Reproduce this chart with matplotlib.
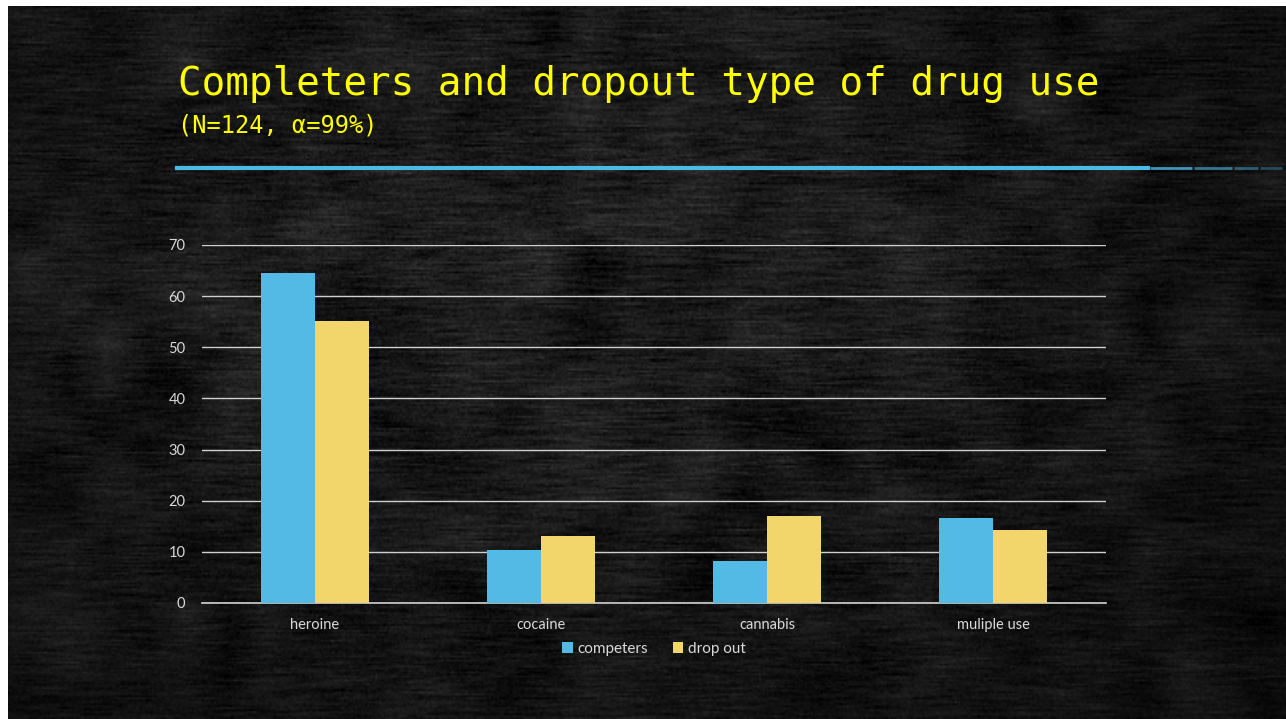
import numpy as np
import matplotlib
matplotlib.use("Agg")
import matplotlib.pyplot as plt
from matplotlib.lines import Line2D
from matplotlib.patches import Patch

categories = ["heroine", "cocaine", "cannabis", "muliple use"]
completers = [64.5, 10.4, 8.2, 16.6]
dropout = [55.1, 13.1, 17.0, 14.3]
series_names = ["competers", "drop out"]
y_ticks = [0, 10, 20, 30, 40, 50, 60, 70]

BLUE = "#53B9E5"
YELLOW = "#F2D66B"
TITLE_YELLOW = "#FFFF00"
LABEL_GRAY = "#D9D9D9"

W, H = 1286, 719
fig = plt.figure(figsize=(W / 100, H / 100), dpi=100)
fig.patch.set_facecolor("white")

# chalkboard backdrop: mottled dark texture with faint horizontal grain
rng = np.random.default_rng(7)
th, tw = 360, 640
noise = rng.normal(0, 1, (th, tw))
kernel = np.ones(15) / 15
streaks = np.apply_along_axis(lambda r: np.convolve(r, kernel, mode="same"), 1, noise)
blob = rng.normal(0, 1, (th // 20 + 2, tw // 20 + 2))
blob = np.kron(blob, np.ones((20, 20)))[:th, :tw]
k2 = np.ones(21) / 21
blob = np.apply_along_axis(lambda r: np.convolve(r, k2, mode="same"), 1, blob)
blob = np.apply_along_axis(lambda c: np.convolve(c, k2, mode="same"), 0, blob)
fine = rng.normal(0, 1, (th, tw))
yy, xx = np.mgrid[0:th, 0:tw]
vignette = 0.45 + 0.55 * np.exp(-(((xx - tw * 0.45) / (tw * 0.55)) ** 2 + ((yy - th * 0.35) / (th * 0.75)) ** 2))
tex = 0.11 + 0.05 * streaks * 2.0 + 0.03 * blob + 0.02 * fine
tex = tex * vignette
tex = np.clip(tex, 0.0, 0.35)
bg = fig.add_axes([8 / W, 0, 1 - 8 / W, 1 - 6 / H])
bg.imshow(tex, cmap="gray", vmin=0, vmax=1, aspect="auto", interpolation="bilinear")
bg.set_axis_off()

# title block
fig.text(178 / W, 1 - 84 / H, "Completers and dropout type of drug use",
         family="DejaVu Sans Mono", fontsize=28.3, color=TITLE_YELLOW, va="center", ha="left")
fig.text(178 / W, 1 - 126 / H, "(N=124, α=99%)",
         family="DejaVu Sans Mono", fontsize=17, color=TITLE_YELLOW, va="center", ha="left")

# chalk underline
fig.add_artist(Line2D([175 / W, 1150 / W], [1 - 168 / H, 1 - 168 / H],
                      color="#4DB8E6", lw=3.0, solid_capstyle="butt"))
for x0, x1, a in [(1150, 1192, 0.8), (1194, 1232, 0.6), (1234, 1258, 0.45), (1260, 1282, 0.35)]:
    fig.add_artist(Line2D([x0 / W, x1 / W], [1 - 168 / H, 1 - 168 / H],
                          color="#4DB8E6", lw=2.0, alpha=a, solid_capstyle="butt"))

# bar chart
ax = fig.add_axes([202 / W, 1 - 603 / H, (1106 - 202) / W, (603 - 245) / H])
ax.set_facecolor("none")
x = np.arange(len(categories))
bw = 0.239
ax.bar(x - bw / 2, completers, width=bw, color=BLUE, label=series_names[0], zorder=3)
ax.bar(x + bw / 2, dropout, width=bw, color=YELLOW, label=series_names[1], zorder=3)
ax.set_xlim(-0.5, len(categories) - 0.5)
ax.set_ylim(0, 70)
ax.set_yticks(y_ticks)
ax.set_yticklabels([str(v) for v in y_ticks])
ax.set_xticks(x)
ax.set_xticklabels(categories)
ax.grid(axis="y", color="#D0D0D0", lw=1.0, zorder=1)
ax.axhline(0, color="#D0D0D0", lw=1.2, zorder=2, clip_on=False)
ax.set_axisbelow(True)
for s in ax.spines.values():
    s.set_visible(False)
ax.tick_params(axis="both", length=0, colors=LABEL_GRAY, labelsize=10.5)
ax.tick_params(axis="y", pad=12)
ax.tick_params(axis="x", pad=11)
for t in ax.get_xticklabels() + ax.get_yticklabels():
    t.set_family("Lato")

handles = [Patch(facecolor=BLUE, label=series_names[0]),
           Patch(facecolor=YELLOW, label=series_names[1])]
leg = fig.legend(handles=handles, loc="center", bbox_to_anchor=(654 / W, 1 - 649 / H),
                 ncol=2, frameon=False, handlelength=0.7, handleheight=0.7,
                 handletextpad=0.3, columnspacing=1.6,
                 prop={"family": "Lato", "size": 11})
for t in leg.get_texts():
    t.set_color(LABEL_GRAY)

fig.savefig("out.png", dpi=100, facecolor=fig.get_facecolor())
